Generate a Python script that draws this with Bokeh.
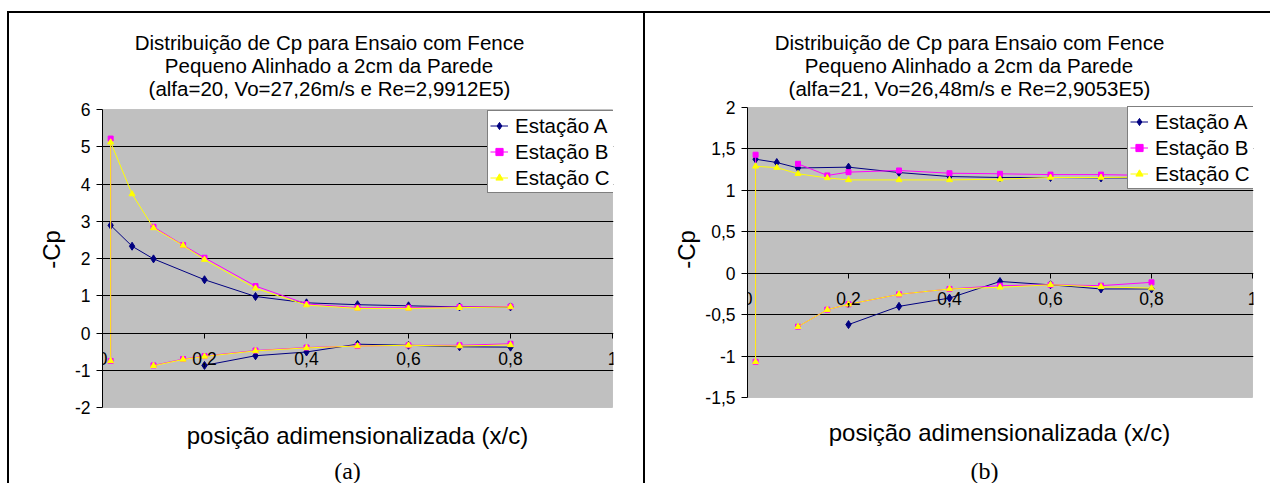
import numpy as np
from bokeh.plotting import figure
from bokeh.models import Label, Legend, LegendItem, FixedTicker, BoxAnnotation
from bokeh.layouts import row
from bokeh.embed import file_html
from bokeh.resources import INLINE

# ---------------- data ----------------
series_names = ["Estação A", "Estação B", "Estação C"]

x_ticks = [0, 0.2, 0.4, 0.6, 0.8, 1]
x_tick_labels = ["0", "0,2", "0,4", "0,6", "0,8", "1"]

ya_ticks = [-2, -1, 0, 1, 2, 3, 4, 5, 6]
ya_tick_labels = ["-2", "-1", "0", "1", "2", "3", "4", "5", "6"]
yb_ticks = [-1.5, -1, -0.5, 0, 0.5, 1, 1.5, 2]
yb_tick_labels = ["-1,5", "-1", "-0,5", "0", "0,5", "1", "1,5", "2"]

# stations (lower surface listed trailing edge -> leading edge, upper leading -> trailing)
x_A_low = [0.8, 0.7, 0.6, 0.5, 0.4, 0.3, 0.2]
x_A_up = [0.016, 0.058, 0.1, 0.2, 0.3, 0.4, 0.5, 0.6, 0.7, 0.8]
x_BC_low = [0.8, 0.7, 0.6, 0.5, 0.4, 0.3, 0.2, 0.158, 0.1, 0.058, 0.016]
x_BC_up = [0.016, 0.058, 0.1, 0.158, 0.2, 0.3, 0.4, 0.5, 0.6, 0.7, 0.8]

# panel (a): alfa=20
a_A_low = [-0.38, -0.37, -0.33, -0.30, -0.51, -0.61, -0.87]
a_A_up = [2.89, 2.33, 1.99, 1.43, 0.98, 0.81, 0.76, 0.73, 0.70, 0.70]
a_B_low = [-0.29, -0.33, -0.33, -0.35, -0.39, -0.47, -0.62, -0.70, -0.87, None, -0.75]
a_B_up = [5.22, None, 2.85, 2.36, 2.02, 1.26, 0.78, 0.68, 0.68, 0.70, 0.71]
a_C_low = [-0.32, -0.35, -0.33, -0.35, -0.40, -0.48, -0.63, -0.71, -0.88, None, -0.75]
a_C_up = [5.12, 3.73, 2.82, 2.35, 1.97, 1.20, 0.75, 0.66, 0.66, 0.68, 0.70]

# panel (b): alfa=21
b_A_low = [-0.19, -0.19, -0.14, -0.10, -0.30, -0.40, -0.62]
b_A_up = [1.376, 1.336, 1.27, 1.28, 1.215, 1.167, 1.155, 1.155, 1.15, 1.15]
b_B_low = [-0.11, -0.15, -0.14, -0.15, -0.19, -0.255, -0.375, -0.44, -0.645, None, -1.07]
b_B_up = [1.43, None, 1.32, 1.18, 1.22, 1.24, 1.207, 1.20, 1.19, 1.19, 1.18]
b_C_low = [-0.18, -0.165, -0.14, -0.17, -0.19, -0.255, -0.375, -0.44, -0.645, None, -1.07]
b_C_up = [1.29, 1.275, 1.20, 1.15, 1.126, 1.126, 1.126, 1.135, 1.155, 1.155, 1.16]

title_a = ["Distribuição de Cp para Ensaio com Fence",
           "Pequeno Alinhado a 2cm da Parede",
           "(alfa=20, Vo=27,26m/s e Re=2,9912E5)"]
title_b = ["Distribuição de Cp para Ensaio com Fence",
           "Pequeno Alinhado a 2cm da Parede",
           "(alfa=21, Vo=26,48m/s e Re=2,9053E5)"]
x_label = "posição adimensionalizada (x/c)"
y_label = "-Cp"

# ---------------- layout constants (page pixels) ----------------
FONT = "Liberation Sans"
ORIGIN_Y = 13          # canvas top of both panels
FRAME_H = 472          # frame spans the whole visible panel height
BOTTOM = 45            # room for the (fixed-location) x axis panel, below the window
H = FRAME_H + BOTTOM
LEG_H = 81


def joined(xl, yl, xu, yu, gap):
    if gap:
        xs = list(xl) + [None] + list(xu)
        ys = list(yl) + [None] + list(yu)
    else:
        xs = list(xl) + list(xu)
        ys = list(yl) + list(yu)
    return np.array(xs, dtype=float), np.array(ys, dtype=float)


def build(titles, series, ylim, yticks, ylabels, geo, sub_text):
    ox, w, px0, px1, py_top, py_bot, title_x, xl_pos, sub_pos, yl_standoff, leg_left, leg_top = geo
    ymin, ymax = ylim
    upp = (ymax - ymin) / (py_bot - py_top)
    frame_top = ORIGIN_Y
    frame_bot = ORIGIN_Y + FRAME_H
    y_start = ymin - (frame_bot - py_bot) * upp
    y_end = ymax + (py_top - frame_top) * upp
    x_end = 1 + 1.0 / (px1 - px0)

    p = figure(width=w, height=H, x_range=(0, x_end), y_range=(y_start, y_end),
               output_backend="svg", toolbar_location=None,
               min_border_left=px0 - ox, min_border_right=w - (px1 + 1 - ox),
               min_border_top=0, min_border_bottom=BOTTOM)
    try:
        p.frame_align = False
    except Exception:
        pass
    p.background_fill_color = "white"
    p.border_fill_color = "white"
    p.outline_line_color = None
    p.styles = {"background-color": "white"}

    area = BoxAnnotation(left=0, right=1, bottom=ymin, top=ymax,
                         fill_color="#C0C0C0", fill_alpha=1,
                         line_color="#808080", line_width=1, level="image")
    p.add_layout(area)

    xa = p.xaxis[0]
    xa.ticker = FixedTicker(ticks=x_ticks)
    xa.major_label_overrides = dict(zip(x_ticks, x_tick_labels))
    xa.fixed_location = 0
    xa.bounds = (0, 1)
    xa.minor_tick_line_color = None
    xa.major_tick_in = 0
    xa.major_tick_out = 5
    xa.major_label_standoff = 14
    xa.axis_line_color = "black"
    xa.major_tick_line_color = "black"
    xa.major_label_text_font = FONT
    xa.major_label_text_font_size = "17.5px"
    xa.major_label_text_color = "black"

    ya = p.yaxis[0]
    ya.ticker = FixedTicker(ticks=yticks)
    ya.major_label_overrides = dict(zip(yticks, ylabels))
    ya.bounds = (ymin, ymax)
    ya.minor_tick_line_color = None
    ya.major_tick_in = 0
    ya.major_tick_out = 6
    ya.major_label_standoff = 6
    ya.axis_line_color = "black"
    ya.major_tick_line_color = "black"
    ya.major_label_text_font = FONT
    ya.major_label_text_font_size = "17.5px"
    ya.major_label_text_color = "black"
    ya.axis_label = y_label
    ya.axis_label_text_font = FONT
    ya.axis_label_text_font_size = "24px"
    ya.axis_label_text_font_style = "normal"
    ya.axis_label_text_color = "black"
    ya.axis_label_standoff = yl_standoff

    p.xgrid.visible = False
    p.ygrid.ticker = FixedTicker(ticks=yticks[1:-1])
    p.ygrid.grid_line_color = "black"
    p.ygrid.grid_line_width = 1

    items = []
    for name, xs, ys, color, marker, size in series:
        lr = p.line(xs, ys, line_color=color, line_width=1)
        sr = p.scatter(xs, ys, marker=marker, size=size,
                       fill_color=color, line_color=color)
        items.append(LegendItem(label=name, renderers=[lr, sr]))

    lg = Legend(items=items,
                location=(leg_left - px0, frame_bot - (leg_top + LEG_H)),
                margin=0,
                border_line_color="black", border_line_width=1,
                background_fill_color="white", background_fill_alpha=1,
                label_text_font=FONT, label_text_font_size="20.5px",
                label_text_color="black",
                glyph_width=18, glyph_height=25, label_height=25,
                label_width=96, label_standoff=7, padding=2, spacing=1)
    p.add_layout(lg)

    for i, t in enumerate(titles):
        p.add_layout(Label(x=title_x - ox, y=42 + 23 * i - ORIGIN_Y,
                           x_units="canvas", y_units="canvas",
                           text=t, text_align="center", text_baseline="middle",
                           text_font=FONT, text_font_size="20.5px", text_color="black"))
    p.add_layout(Label(x=xl_pos[0] - ox, y=xl_pos[1] - ORIGIN_Y,
                       x_units="canvas", y_units="canvas",
                       text=x_label, text_align="center", text_baseline="middle",
                       text_font=FONT, text_font_size="24px", text_color="black"))
    p.add_layout(Label(x=sub_pos[0] - ox, y=sub_pos[1] - ORIGIN_Y,
                       x_units="canvas", y_units="canvas",
                       text=sub_text, text_align="center", text_baseline="middle",
                       text_font="Liberation Serif", text_font_size="24px", text_color="black"))
    return p


def series_for(A_low, A_up, B_low, B_up, C_low, C_up):
    xA, yA = joined(x_A_low, A_low, x_A_up, A_up, True)
    xB, yB = joined(x_BC_low, B_low, x_BC_up, B_up, False)
    xC, yC = joined(x_BC_low, C_low, x_BC_up, C_up, False)
    return [
        (series_names[0], xA, yA, "#000080", "diamond", 8),
        (series_names[1], xB, yB, "#FF00FF", "square", 5),
        (series_names[2], xC, yC, "#FFFF00", "triangle", 6),
    ]


# geo: origin_x, width, px(x=0), px(x=1), py(ymax), py(ymin), title center x,
#      x-label center, sub-caption center, y-label standoff, legend left, legend top
geo_a = (9, 634, 102, 612, 109, 407, 329, (357, 435), (347, 470), 7, 487, 112)
geo_b = (645, 625, 747, 1252, 107, 397, 969, (999, 432), (984, 470), 2, 1127, 108)

pa = build(title_a, series_for(a_A_low, a_A_up, a_B_low, a_B_up, a_C_low, a_C_up),
           (-2, 6), ya_ticks, ya_tick_labels, geo_a, "(a)")
pb = build(title_b, series_for(b_A_low, b_A_up, b_B_low, b_B_up, b_C_low, b_C_up),
           (-1.5, 2), yb_ticks, yb_tick_labels, geo_b, "(b)")

pa.margin = (2, 0, 0, 2)
pb.margin = (2, 0, 0, 2)
layout = row(pa, pb, spacing=0)
layout.margin = (11, 0, 0, 7)
layout.styles = {"background-color": "black"}

open("out.html", "w").write(file_html(layout, INLINE))
